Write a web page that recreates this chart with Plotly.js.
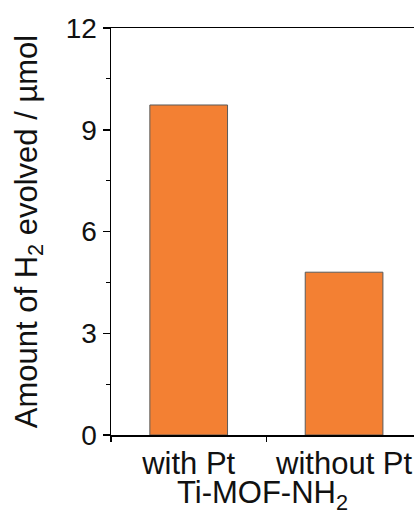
<!DOCTYPE html>
<html><head><meta charset="utf-8">
<script src="https://cdn.plot.ly/plotly-3.0.1.min.js"></script>
<style>html,body{margin:0;padding:0;background:#fff;overflow:hidden}</style>
</head><body>
<div id="chart" style="width:414px;height:515px"></div>
<script>
const categories = ["with Pt", "without Pt"];
const h2Evolved = [9.73, 4.80];
const yTickVals = [0, 3, 6, 9, 12];
const yTitle = "Amount of H<sub>2</sub> evolved / µmol";
const xTitle = "Ti-MOF-NH<sub>2</sub>";

const font = "Liberation Sans, Arial, sans-serif";
Plotly.newPlot("chart", [{
  type: "bar",
  x: categories,
  y: h2Evolved,
  width: 0.5,
  marker: {color: "#F38033", line: {color: "#5a5a5a", width: 1}},
  hoverinfo: "none"
}], {
  width: 414, height: 515,
  margin: {l: 111, r: 0, t: 28, b: 80},
  paper_bgcolor: "#fff", plot_bgcolor: "#fff",
  showlegend: false,
  font: {family: font, color: "#111", size: 30},
  xaxis: {
    type: "category",
    range: [-0.5, 1.45],
    showline: true, linecolor: "#000", linewidth: 1.5, mirror: true,
    ticks: "outside", tickson: "boundaries", ticklen: 5, tickwidth: 1.5, tickcolor: "#000",
    showgrid: false, zeroline: false,
    tickfont: {size: 31, family: font, color: "#111"},
    title: {text: xTitle, font: {size: 31, family: font, color: "#111"}, standoff: 3}
  },
  yaxis: {
    range: [0, 12],
    tickvals: yTickVals,
    showline: true, linecolor: "#000", linewidth: 1.5, mirror: false,
    ticks: "outside", ticklen: 7, tickwidth: 1.5, tickcolor: "#000",
    minor: {dtick: 1.5, ticks: "outside", ticklen: 4, tickwidth: 1.2, tickcolor: "#000", showgrid: false},
    showgrid: false, zeroline: false,
    tickfont: {size: 28, family: font, color: "#111"},
    title: {text: yTitle, font: {size: 31, family: font, color: "#111"}, standoff: 19}
  }
}, {staticPlot: true, displayModeBar: false});
</script>
</body></html>
